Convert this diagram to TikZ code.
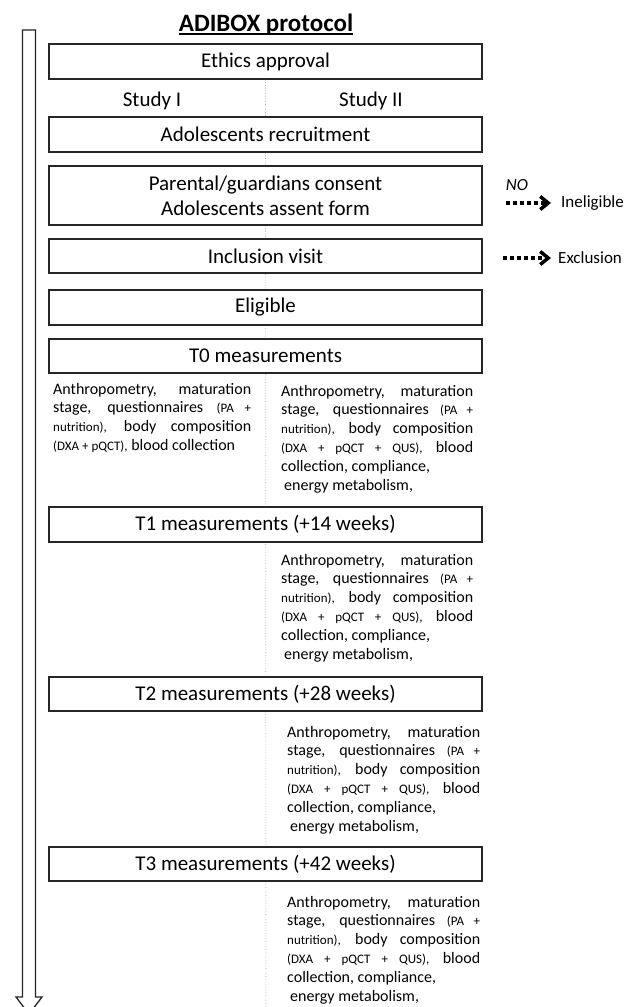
\documentclass[tikz,border=0pt]{standalone}
\usepackage{fontspec}
\setmainfont{Carlito}
\usetikzlibrary{arrows.meta}
\newcommand{\jl}[2]{\makebox[#1][s]{#2}}
\newcommand{\smp}[1]{{\fontsize{13}{18.8}\selectfont #1}}
\newcommand{\rblock}[1]{\parbox[t]{#1}{\fontsize{16}{18.8}\selectfont
\jl{#1}{Anthropometry, maturation}\\
\jl{#1}{stage, questionnaires \smp{(PA +}}\\
\jl{#1}{\smp{nutrition),} body composition}\\
\jl{#1}{\smp{(DXA + pQCT + QUS),} blood}\\
collection, compliance,\\
\hspace*{3pt}energy metabolism,}}
\newcommand{\lblock}[1]{\parbox[t]{#1}{\fontsize{16}{18.8}\selectfont
\jl{#1}{Anthropometry, maturation}\\
\jl{#1}{stage, questionnaires \smp{(PA +}}\\
\jl{#1}{\smp{nutrition),} body composition}\\
\smp{(DXA + pQCT),} blood collection}}
\tikzset{
  stepbox/.style={draw=black!85, line width=1.5pt, fill=white, minimum width=433pt,
    minimum height=35pt, inner sep=0pt, font=\fontsize{21}{25}\selectfont, align=center},
  lbl/.style={font=\fontsize{21}{25}\selectfont, inner sep=0pt},
  smalltext/.style={inner sep=0pt, anchor=base west},
  side/.style={font=\fontsize{17}{20}\selectfont, inner sep=0pt},
  dotarrow/.style={line width=4pt, dash pattern=on 4pt off 3pt,
    -{Straight Barb[length=8pt,width=13pt,line width=3.5pt]}, shorten >=10pt},
  midline/.style={draw=black!35, line width=0.7pt, dotted},
  timearrow/.style={draw=black!85, line width=1.3pt, fill=white, line join=miter},
}
\begin{document}
\begin{tikzpicture}[x=1pt,y=-1pt]
\useasboundingbox (0,0) rectangle (633,1007);
\fill[white] (0,0) rectangle (633,1007);

% title
\node[inner sep=0pt, anchor=base, font=\fontsize{25}{29}\selectfont\bfseries] (title) at (266,31) {ADIBOX protocol};
\draw[line width=1.4pt] ([yshift=-3pt]title.base west) -- ([yshift=-3pt]title.base east);

% time arrow
\draw[timearrow] (22.5,30) -- (35.5,30) -- (35.5,997) -- (42,997) -- (29,1014) -- (16,997) -- (22.5,997) -- cycle;

% boxes
\node[stepbox] (ethics) at (265.5,61.5) {Ethics approval};
\coordinate (bottom) at (266,1007);
\draw[midline] (ethics.south) -- (bottom);

\node[lbl] (s1) at (152,101) {Study I};
\node[lbl] (s2) at (371,101) {Study II};

\node[stepbox] (recr) at (265.5,134.5) {Adolescents recruitment};
\node[stepbox, minimum height=59pt] (cons) at (265.5,195.5) {Parental/guardians consent\\Adolescents assent form};
\node[stepbox, minimum height=34pt] (incl) at (265.5,256) {Inclusion visit};
\node[stepbox] (elig) at (265.5,307.5) {Eligible};
\node[stepbox, minimum height=34pt] (t0) at (265.5,356) {T0 measurements};
\node[stepbox] (t1) at (265.5,524.5) {T1 measurements (+14 weeks)};
\node[stepbox, minimum height=34pt] (t2) at (265.5,694) {T2 measurements (+28 weeks)};
\node[stepbox, minimum height=34pt] (t3) at (265.5,864) {T3 measurements (+42 weeks)};

% measurement texts
\node[smalltext] (t0l) at (53,394) {\lblock{198pt}};
\node[smalltext] (t0r) at (281,396) {\rblock{192pt}};
\node[smalltext] (t1r) at (281,565) {\rblock{192pt}};
\node[smalltext] (t2r) at (287,737) {\rblock{193pt}};
\node[smalltext] (t3r) at (287,907) {\rblock{193pt}};

% side outcomes
\node[side, font=\fontsize{17}{20}\selectfont\itshape] (no) at (517,185) {NO};
\node[side, anchor=west] (inel) at (561,203) {Ineligible};
\node[side, anchor=west] (excl) at (558,258) {Exclusion};
\coordinate (a1) at (506,203);
\coordinate (a2) at (503,258);
\draw[dotarrow] (a1) -- (inel.west);
\draw[dotarrow, shorten >=7pt] (a2) -- (excl.west);
\end{tikzpicture}
\end{document}
